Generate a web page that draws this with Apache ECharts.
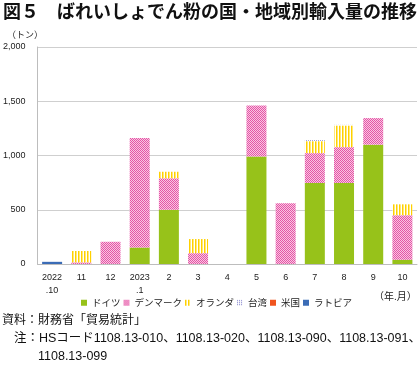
<!DOCTYPE html>
<html><head><meta charset="utf-8">
<script src="https://cdn.jsdelivr.net/npm/echarts@6/dist/echarts.min.js"></script>
<style>html,body{margin:0;padding:0;background:#fff}#c{width:420px;height:366px}</style>
</head><body><div id="c"></div>
<script>
const categories = ['2022\n.10','11','12','2023\n.1','2','3','4','5','6','7','8','9','10'];
const germany     = [0,0,0,152,500,0,0,990,0,747,747,1100,40];
const denmark     = [0,15,205,1010,290,100,0,470,560,275,330,245,410];
const netherlands = [0,105,0,0,60,130,0,0,0,110,200,0,100];
const taiwan      = [0,0,0,0,0,0,3,0,0,8,5,0,0];
const usa         = [0,0,0,0,0,0,0,0,0,0,0,0,0];
const latvia      = [20,0,0,0,0,0,0,0,0,0,0,0,0];
const seriesNames = ['ドイツ','デンマーク','オランダ','台湾','米国','ラトビア'];
const yTicks = [0,500,1000,1500,2000];

function pat(w,h,fn){const c=document.createElement('canvas');c.width=w;c.height=h;const g=c.getContext('2d');fn(g);return {image:c,repeat:'repeat'};}
const pinkPat = pat(2,2,g=>{g.fillStyle='#f9c6e2';g.fillRect(0,0,2,2);g.fillStyle='#e455a6';g.fillRect(0,0,1,1);g.fillRect(1,1,1,1);});
const yellowPat = pat(3,1,g=>{g.fillStyle='#ffffff';g.fillRect(0,0,3,1);g.fillStyle='#ffd000';g.fillRect(0,0,1,1);g.fillStyle='#ffe978';g.fillRect(1,0,1,1);});
const bluePat = pat(2,2,g=>{g.fillStyle='#ffffff';g.fillRect(0,0,2,2);g.fillStyle='#7a7ac8';g.fillRect(0,0,1,1);});

const fontLat = '"Liberation Sans","Noto Sans CJK JP",sans-serif';
const fontJP = '"Noto Sans CJK JP",sans-serif';
const colors = ['#97c21a', pinkPat, yellowPat, bluePat, '#f0541e', '#3b6cb6'];
const datas = [germany, denmark, netherlands, taiwan, usa, latvia];

const chart = echarts.init(document.getElementById('c'), null, {renderer:'canvas'});
chart.setOption({
  animation:false,
  grid:{left:36,right:3,top:47,bottom:102,containLabel:false},
  xAxis:{type:'category',data:categories,
    axisLine:{lineStyle:{color:'#bdbdbd'}},axisTick:{show:false},
    axisLabel:{color:'#222',fontSize:9,fontFamily:fontLat,margin:7,lineHeight:13,interval:0}},
  yAxis:{type:'value',min:0,max:2000,interval:500,
    axisLine:{show:true,lineStyle:{color:'#bdbdbd'}},axisTick:{show:false},
    splitLine:{lineStyle:{color:'#cfcfcf'}},
    axisLabel:{color:'#222',fontSize:9,fontFamily:fontLat,margin:12,
      formatter:v=>v.toLocaleString('en-US')}},
  legend:{data:seriesNames,left:76,top:293,itemWidth:6,itemHeight:6,itemGap:3,
    icon:'rect',textStyle:{fontSize:9.5,fontFamily:fontJP,color:'#222'}},
  series: seriesNames.map((n,i)=>({name:n,type:'bar',stack:'s',barWidth:20,
    data:datas[i],itemStyle:{color:colors[i]}})),
  graphic:[
    {type:'text',left:3,top:2,style:{text:'図５　ばれいしょでん粉の国・地域別輸入量の推移',font:'bold 18px "Noto Sans CJK JP"',fill:'#111'}},
    {type:'text',left:7,top:30,style:{text:'（トン）',font:'9px "Noto Sans CJK JP"',fill:'#222'}},
    {type:'text',left:374,top:291,style:{text:'（年.月）',font:'10px "Noto Sans CJK JP"',fill:'#222'}},
    {type:'text',left:2,top:313,style:{text:'資料：財務省「貿易統計」',font:'12px "Noto Sans CJK JP"',fill:'#111'}},
    {type:'text',left:14,top:332,style:{text:'注：HSコード1108.13-010、1108.13-020、1108.13-090、1108.13-091、',font:'12.5px "Liberation Sans","Noto Sans CJK JP"',fill:'#111'}},
    {type:'text',left:38,top:350,style:{text:'1108.13-099',font:'12.5px "Liberation Sans","Noto Sans CJK JP"',fill:'#111'}}
  ]
});
</script></body></html>
